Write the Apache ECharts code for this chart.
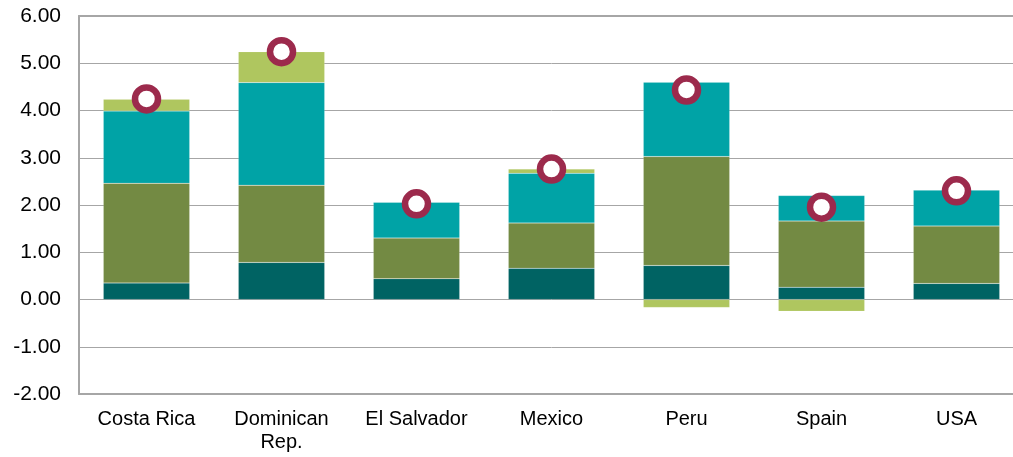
<!DOCTYPE html>
<html>
<head>
<meta charset="utf-8">
<script src="https://cdn.jsdelivr.net/npm/echarts@6/dist/echarts.min.js"></script>
<style>
html,body{margin:0;padding:0;background:#fff;overflow:hidden;width:1013px;height:457px;}
#chart{width:1040px;height:457px;}
</style>
</head>
<body>
<div id="chart"></div>
<script>
const categories = ["Costa Rica", "Dominican\nRep.", "El Salvador", "Mexico", "Peru", "Spain", "USA"];
const darkTeal = [0.35, 0.785, 0.44, 0.66, 0.72, 0.26, 0.34];
const olive = [2.11, 1.635, 0.86, 0.96, 2.305, 1.40, 1.215];
const teal = [1.53, 2.17, 0.76, 1.05, 1.575, 0.54, 0.76];
const lightGreen = [0.25, 0.655, 0, 0.09, -0.17, -0.25, 0];
const total = [4.245, 5.245, 2.025, 2.76, 4.435, 1.955, 2.30];

const font = "'Liberation Sans', Arial, sans-serif";
const frame = { color: '#a6a6a6', width: 2 };
const chart = echarts.init(document.getElementById('chart'));
function bar(name, data, color) {
  return {
    name: name, type: 'bar', stack: 's', data: data,
    barCategoryGap: '36%',
    itemStyle: { color: color, borderColor: 'rgba(255,255,255,0.25)', borderWidth: 0.5 },
    emphasis: { disabled: true }
  };
}
chart.setOption({
  animation: false,
  grid: { left: 79, top: 16, width: 945, height: 378 },
  xAxis: [{
    type: 'category', data: categories,
    axisLine: { show: true, onZero: false, lineStyle: frame },
    axisTick: { show: false },
    axisLabel: { color: '#000', fontFamily: font, fontSize: 20, lineHeight: 23, margin: 14, interval: 0 }
  }, {
    type: 'category', data: categories, position: 'top',
    axisLine: { show: true, onZero: false, lineStyle: frame },
    axisTick: { show: false }, axisLabel: { show: false }
  }],
  yAxis: {
    type: 'value', min: -2, max: 6, interval: 1,
    axisLine: { show: true, lineStyle: frame },
    axisTick: { show: false },
    splitLine: { lineStyle: { color: '#a6a6a6', width: 1 } },
    axisLabel: { color: '#000', fontFamily: font, fontSize: 21, margin: 18, formatter: v => v.toFixed(2) }
  },
  series: [
    bar('A', darkTeal, '#006363'),
    bar('B', olive, '#738a43'),
    bar('C', teal, '#00a3a6'),
    bar('D', lightGreen, '#afc65f'),
    {
      name: 'Total', type: 'scatter', data: total, z: 10,
      symbol: 'circle', symbolSize: 23,
      itemStyle: { color: '#ffffff', borderColor: '#9c2a4c', borderWidth: 6.5, opacity: 1 },
      emphasis: { disabled: true }
    }
  ]
});
</script>
</body>
</html>
